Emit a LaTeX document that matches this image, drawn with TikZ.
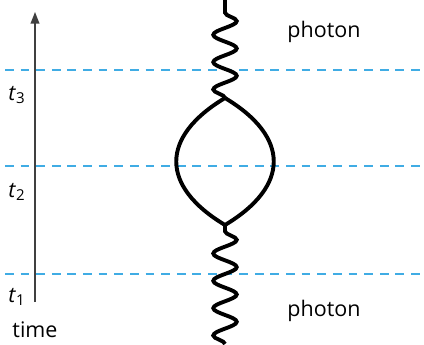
\documentclass[tikz,border=0pt]{standalone}
\usepackage{fontspec}
\setmainfont{Open Sans}
\usepackage{tikz}
\usetikzlibrary{arrows.meta, decorations.pathmorphing}
\definecolor{slicecol}{RGB}{64,172,228}

\begin{document}
\begin{tikzpicture}[
    x=0.018cm, y=-0.018cm,
    every node/.style={font=\fontsize{11}{13}\selectfont, inner sep=0pt},
    timeline/.style={draw=black!75, line width=0.8pt, -{Triangle[length=6pt, width=4.5pt]}},
    slice/.style={draw=slicecol, line width=0.6pt, dash pattern=on 4.5pt off 3.5pt},
    photonline/.style={draw, line width=2pt, decorate,
                decoration={snake, segment length=14pt, amplitude=6pt}},
    fermion/.style={draw, line width=2pt},
    tlabel/.style={anchor=center}
]
\useasboundingbox (0,0) rectangle (424,344);

% time slices
\foreach \y/\name in {70/three, 166/two, 274/one} {
  \coordinate (sl-\name) at (5,\y);
  \coordinate (sr-\name) at (424,\y);
  \draw[slice] (sl-\name) -- (sr-\name);
}

% time axis
\coordinate (tstart) at (35,302);
\coordinate (tend) at (35,12);
\draw[timeline] (tstart) -- (tend);
\node[tlabel] (t3) at (17,95) {\textit{t}\textsubscript{3}};
\node[tlabel] (t2) at (17,192) {\textit{t}\textsubscript{2}};
\node[tlabel] (t1) at (17,297) {\textit{t}\textsubscript{1}};
\node (time) at (35,330) {time};

% diagram
\coordinate (in) at (225,344);
\coordinate (vbot) at (225,225);
\coordinate (vtop) at (225,98);
\coordinate (out) at (225,0);
\draw[photonline] (vtop) -- (out);
\draw[photonline] (in) -- (vbot);
\draw[fermion] (vtop) .. controls (160,137) and (160,186) .. (vbot);
\draw[fermion] (vtop) .. controls (290,137) and (290,186) .. (vbot);

\node (ph-out) at (324,32) {photon};
\node (ph-in) at (324,311) {photon};
\end{tikzpicture}
\end{document}
